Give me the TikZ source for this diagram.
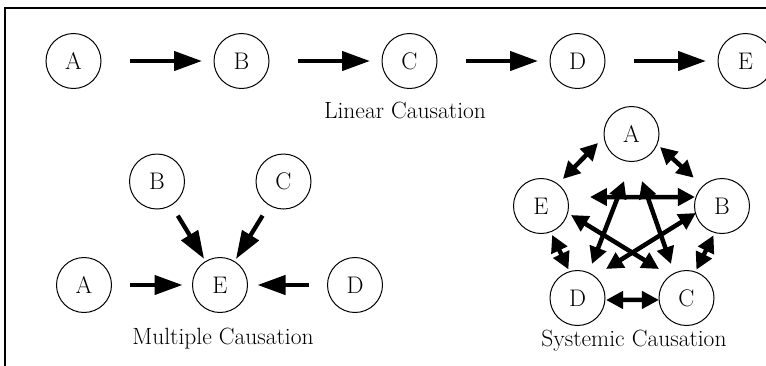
\documentclass[tikz,border=0pt]{standalone}
\usepackage{fontspec}
\usetikzlibrary{arrows.meta,calc}
\begin{document}
\begin{tikzpicture}[x=1bp,y=-1bp,
  circ/.style={draw=black, line width=1bp, circle, minimum size=55bp, inner sep=0pt, font=\fontsize{24bp}{28bp}\selectfont},
  lbl/.style={font=\fontsize{23.5bp}{28bp}\selectfont, inner sep=0pt},
  bigarr/.style={line width=4.3bp, -{Triangle[length=28bp,width=19bp]}},
  sarr/.style={line width=4.5bp, {Triangle[length=17bp,width=17bp]}-{Triangle[length=17bp,width=17bp]}},
  frameline/.style={line width=2bp}]
\useasboundingbox (0,0) rectangle (766,365);
\draw[frameline] (5,366) -- (5,8) -- (767,8);

% Linear causation
\node[circ] (lA) at (73.5,61) {A};
\node[circ] (lB) at (241.5,61) {B};
\node[circ] (lC) at (409.5,61) {C};
\node[circ] (lD) at (577.5,61) {D};
\node[circ] (lE) at (745.5,61) {E};
\foreach \s/\t in {lA/lB, lB/lC, lC/lD, lD/lE}
  \draw[bigarr, shorten <=28.5bp, shorten >=11.5bp] (\s) -- (\t);
\node[lbl] (tLin) at (405,110) {Linear Causation};

% Multiple causation
\node[circ] (mB) at (157,181.5) {B};
\node[circ] (mC) at (283.5,181.5) {C};
\node[circ] (mA) at (84,285) {A};
\node[circ] (mE) at (220,285) {E};
\node[circ] (mD) at (355,285) {D};
\draw[bigarr, shorten <=18bp, shorten >=9.5bp] (mA) -- (mE);
\draw[bigarr, shorten <=18bp, shorten >=9.5bp] (mD) -- (mE);
\draw[bigarr, shorten <=12bp, shorten >=2.5bp] (mB) -- (mE);
\draw[bigarr, shorten <=12bp, shorten >=2.5bp] (mC) -- (mE);
\node[lbl] (tMul) at (223,339) {Multiple Causation};

% Systemic causation
\node[circ] (sA) at (631.5,134) {A};
\node[circ] (sB) at (722,206) {B};
\node[circ] (sC) at (686.5,298) {C};
\node[circ] (sD) at (577.5,298) {D};
\node[circ] (sE) at (541,206) {E};
\draw[sarr] ($(sA)+(195:34.7bp)$) -- ($(sE)+(51:34.8bp)$);
\draw[sarr] ($(sA)+(335.5:31.3bp)$) -- ($(sB)+(135:40bp)$);
\draw[sarr] ($(sE)+(10.4:49.8bp)$) -- ($(sB)+(161.6:28.5bp)$);
\draw[sarr] ($(sA)+(261:47.6bp)$) -- ($(sD)+(67:37bp)$);
\draw[sarr] ($(sA)+(282.6:48.2bp)$) -- ($(sC)+(114.5:37.4bp)$);
\draw[sarr] ($(sE)+(343.3:31.3bp)$) -- ($(sC)+(133.5:40bp)$);
\draw[sarr] ($(sB)+(195:27bp)$) -- ($(sD)+(45.5:40.7bp)$);
\draw[sarr] ($(sE)+(291:31bp)$) -- ($(sD)+(107.6:30bp)$);
\draw[sarr] ($(sB)+(253.8:30.5bp)$) -- ($(sC)+(70.7:30bp)$);
\draw[sarr] ($(sD)+(356:28.6bp)$) -- ($(sC)+(184:27.6bp)$);
\node[lbl] (tSys) at (634,341) {Systemic Causation};
\end{tikzpicture}
\end{document}
